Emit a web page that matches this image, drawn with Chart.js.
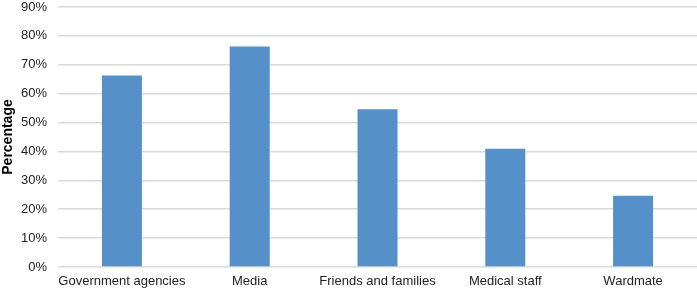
<!DOCTYPE html>
<html>
<head>
<meta charset="utf-8">
<script src="https://cdn.jsdelivr.net/npm/chart.js@4/dist/chart.umd.min.js"></script>
<style>
  html, body { margin: 0; padding: 0; background: #fff; }
  #wrap { width: 697px; height: 291px; position: relative; }
</style>
</head>
<body>
<div id="wrap"><canvas id="grafik"></canvas></div>
<script>
// categories and values
const kategoriler = ["Government agencies", "Media", "Friends and families", "Medical staff", "Wardmate"];
const yuzdeler = [66.3, 76.3, 54.6, 40.9, 24.7];
const yEksenMax = 90;
const yEksenAdim = 10;

const ctx = document.getElementById("grafik").getContext("2d");

new Chart(ctx, {
  type: "bar",
  data: {
    labels: kategoriler,
    datasets: [
      {
        data: yuzdeler,
        backgroundColor: "#5591c8",
        borderWidth: 0,
        categoryPercentage: 1,
        barPercentage: 0.313,
      },
    ],
  },
  options: {
    responsive: true,
    maintainAspectRatio: false,
    animation: false,
    layout: { padding: { top: 7, right: 0, bottom: 0, left: 0 } },
    plugins: { legend: { display: false }, tooltip: { enabled: false } },
    scales: {
      x: {
        grid: { display: false, drawTicks: false },
        border: { display: false },
        ticks: {
          color: "#222",
          font: { family: "Liberation Sans", size: 13 },
          maxRotation: 0,
          autoSkip: false,
          padding: 7,
        },
        afterFit: eksen => { eksen.height = 24; },
      },
      y: {
        min: 0,
        max: yEksenMax,
        ticks: {
          stepSize: yEksenAdim,
          color: "#222",
          font: { family: "Liberation Sans", size: 13 },
          padding: 11,
          callback: v => v + "%",
        },
        grid: { color: "#d9d9d9", lineWidth: 1.5, drawTicks: false },
        border: { display: false },
        title: {
          display: true,
          text: "Percentage",
          color: "#000",
          font: { family: "Liberation Sans", size: 14, weight: "bold" },
          padding: 0,
        },
        afterFit: eksen => {
          eksen.width = 58;
          eksen.paddingTop = 0;
          eksen.paddingBottom = 0;
        },
      },
    },
  },
});
</script>
</body>
</html>
